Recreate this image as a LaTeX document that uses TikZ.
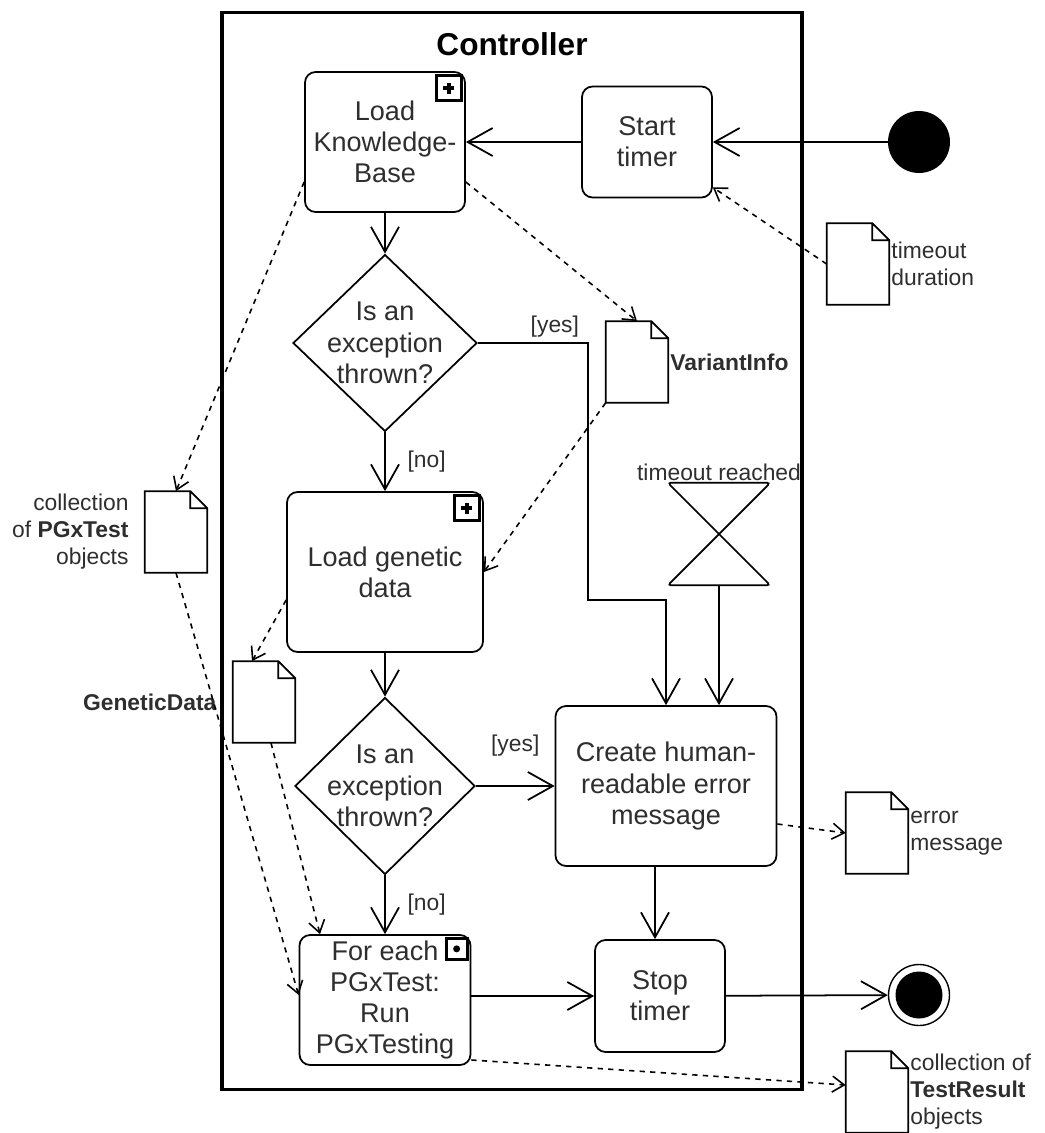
\documentclass[tikz,border=0pt]{standalone}
\usepackage{fontspec}
\setmainfont{Liberation Sans}
\usetikzlibrary{arrows.meta, positioning, shapes.geometric}

\begin{document}
\begin{tikzpicture}[
      x=0.02cm, y=-0.02cm,
      box/.style={rectangle, rounded corners=6pt, draw, fill=white, line width=1pt, inner sep=2pt,
                  align=center, text=black!82, font={\fontsize{15.4}{17.8}\selectfont}},
      decision/.style={diamond, draw, fill=white, line width=1pt, inner sep=0pt},
      dtext/.style={align=center, text=black!82, font={\fontsize{15.4}{17.8}\selectfont}},
      lbl/.style={font={\fontsize{13}{15.4}\selectfont}, text=black!82, inner sep=1pt},
      doc/.style={rectangle, minimum width=1.24cm, minimum height=1.62cm, inner sep=0pt},
      docline/.style={line width=1pt, fill=white},
      plusicon/.style={rectangle, draw, fill=white, line width=2pt, minimum size=0.5cm, inner sep=0pt,
                  anchor=north east,
                  path picture={\draw[black, line width=1.8pt]
                    ([xshift=-1.1mm]path picture bounding box.center) -- ([xshift=1.1mm]path picture bounding box.center)
                    ([yshift=-1.1mm]path picture bounding box.center) -- ([yshift=1.1mm]path picture bounding box.center);}},
      doticon/.style={rectangle, draw, fill=white, line width=1.8pt, minimum size=0.42cm, inner sep=0pt,
                  anchor=north east,
                  path picture={\fill[black] (path picture bounding box.center) circle (0.7mm);}},
      startnode/.style={circle, fill=black, minimum size=1.24cm, inner sep=0pt},
      endnode/.style={circle, draw, fill=white, line width=0.8pt, minimum size=1.22cm, inner sep=0pt,
                  path picture={\fill[black] (path picture bounding box.center) circle (0.47cm);}},
      arr/.style={-{Straight Barb[length=5mm, width=5.6mm]}, line width=1pt},
      darr/.style={-{Straight Barb[length=2.4mm, width=3.2mm]}, line width=0.9pt, dash pattern=on 3pt off 3pt}
    ]
      \useasboundingbox (0,0) rectangle (1045,1133);
      \node[draw, line width=1.8pt, minimum width=11.6cm, minimum height=21.56cm, inner sep=0pt] (ctrl) at (512,551) {};
      \node[font={\bfseries\fontsize{18}{21}\selectfont}] (title) at (512,44) {Controller};

      \node[startnode] (start) at (919,142) {};
      \node[box, minimum width=2.6cm, minimum height=2.22cm] (timer) at (647,142) {Start\\timer};
      \node[box, minimum width=3.2cm, minimum height=2.8cm] (kb) at (385,142) {Load\\Knowledge-\\Base};
      \node[decision, minimum width=3.68cm, minimum height=3.54cm,
            label={[dtext]center:Is an\\exception\\thrown?}] (d1) at (385,343) {};
      \node[box, minimum width=3.92cm, minimum height=3.2cm] (gen) at (385,572) {Load genetic\\data};
      \node[decision, minimum width=3.6cm, minimum height=3.54cm,
            label={[dtext]center:Is an\\exception\\thrown?}] (d2) at (385,786) {};
      \node[box, minimum width=4.42cm, minimum height=3.2cm] (create) at (666,786) {Create human-\\readable error\\message};
      \node[box, minimum width=3.42cm, minimum height=2.6cm] (each) at (385,1000) {For each\\PGxTest:\\Run\\PGxTesting};
      \node[box, minimum width=2.6cm, minimum height=2.24cm] (stop) at (660,996) {Stop\\timer};
      \node[endnode] (end) at (919,995) {};
      \node[minimum width=2.04cm, minimum height=2.04cm, inner sep=0pt,
            label={[lbl]above:timeout reached}] (hour) at (719,534) {};

      \node[plusicon] (kbicon) at ([shift={(-1.5pt,-1.5pt)}]kb.north east) {};
      \node[plusicon] (genicon) at ([shift={(-1.5pt,-1.5pt)}]gen.north east) {};
      \node[doticon] (eachicon) at ([shift={(-1.5pt,-1.5pt)}]each.north east) {};

      \node[doc, label={[lbl, align=left]east:timeout\\duration}] (dur) at (858,264) {};
      \node[doc, label={[lbl]east:\textbf{VariantInfo}}] (vinfo) at (637,362) {};
      \node[doc, label={[lbl, align=right, xshift=-8pt]west:collection\\of \textbf{PGxTest}\\objects}] (tests) at (176,532) {};
      \node[doc, label={[lbl, xshift=-8pt]west:\textbf{GeneticData}}] (gdata) at (264,702) {};
      \node[doc, label={[lbl, align=left]east:error\\message}] (errmsg) at (877,833) {};
      \node[doc, label={[lbl, align=left]east:collection of\\\textbf{TestResult}\\objects}] (results) at (877,1092) {};

      \foreach \d in {dur, vinfo, tests, gdata, errmsg, results}
        \filldraw[docline] (\d.south west) -- (\d.north west) -- ([xshift=-0.34cm]\d.north east)
          -- ([yshift=-0.34cm]\d.north east) -- (\d.south east) -- cycle
          ([xshift=-0.34cm]\d.north east) |- ([yshift=-0.34cm]\d.north east);

      \draw[line width=1pt, rounded corners=2pt] (hour.north west) -- (hour.north east)
        -- (hour.south west) -- (hour.south east) -- cycle;

      \draw[arr] (start) -- (timer);
      \draw[arr] (timer) -- (kb);
      \draw[arr] (kb) -- (d1);
      \draw[arr] (d1.east) -- node[lbl, above=2pt, pos=0.7] {[yes]} ++(110,0) -- ++(0,257) -| (create.north);
      \draw[arr] (d1) -- node[lbl, right=0.4cm] {[no]} (gen);
      \draw[arr] (gen) -- (d2);
      \draw[arr] (d2) -- node[lbl, above=0.55cm] {[yes]} (create);
      \draw[arr] (d2) -- node[lbl, right=0.4cm] {[no]} (each);
      \draw[arr] (hour.south) -- (hour.south |- create.north);
      \draw[arr] ([xshift=-0.1cm]stop.north |- create.south) -- ([xshift=-0.1cm]stop.north);
      \draw[arr] (stop.west -| each.east) -- (stop.west);
      \draw[arr] (stop) -- (end);

      \draw[darr] (dur.west) -- ([yshift=0.22cm]timer.south east);
      \draw[darr] ([yshift=-0.8cm]kb.east) -- (vinfo.north);
      \draw[darr] ([yshift=-0.8cm]kb.west) -- (tests.north);
      \draw[darr] (vinfo.south west) -- (gen.east);
      \draw[darr] ([yshift=-0.56cm]gen.west) -- ([xshift=-0.24cm]gdata.north);
      \draw[darr] (tests.south) -- ([yshift=0.1cm]each.west);
      \draw[darr] ([xshift=0.14cm]gdata.south) -- ([xshift=-1.3cm]each.north);
      \draw[darr] ([yshift=-0.76cm]create.east) -- (errmsg.west);
      \draw[darr] ([yshift=-1.2cm]each.east) -- ([yshift=0.14cm]results.west);
    \end{tikzpicture}
\end{document}
